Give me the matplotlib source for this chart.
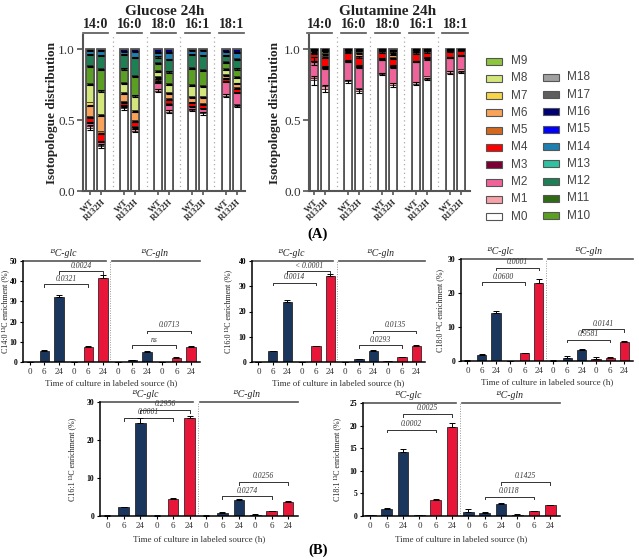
import numpy as np
import matplotlib.pyplot as plt
import matplotlib.patches as mpatches

plt.rcParams['font.family'] = ['Liberation Serif', 'DejaVu Serif']

W, H = 639, 559

# ---------- (A) isotopologue distributions ----------
lipids = ['14:0', '16:0', '18:0', '16:1', '18:1']
genotypes = ['WT', 'R132H']
iso_names = ['M%d' % i for i in range(19)]
iso_colors = ['#ffffff', '#f7a1a9', '#f0639a', '#7a0033', '#ff0000', '#d2691e',
              '#f9a35a', '#f7d54a', '#d3e67b', '#8cc63f', '#5a9e22', '#2e6b14',
              '#1e7f55', '#2fc1a0', '#1f7fae', '#0000ff', '#000075', '#5e5e5e',
              '#a0a0a0']

# fractions M0..M16, one row per bar (WT, R132H for each lipid)
glc_frac = [
    [0.445, 0.015, 0.02, 0.005, 0.035, 0.01, 0.07, 0.03, 0.12, 0.01, 0.12, 0.01, 0.07, 0.005, 0.025, 0.003, 0.007],
    [0.315, 0.012, 0.02, 0.008, 0.05, 0.015, 0.11, 0.015, 0.16, 0.01, 0.14, 0.01, 0.09, 0.005, 0.03, 0.0, 0.01],
    [0.583, 0.007, 0.012, 0.005, 0.018, 0.01, 0.05, 0.01, 0.065, 0.01, 0.09, 0.01, 0.09, 0.005, 0.02, 0.005, 0.01],
    [0.425, 0.01, 0.015, 0.005, 0.035, 0.01, 0.06, 0.01, 0.1, 0.01, 0.13, 0.01, 0.12, 0.005, 0.04, 0.005, 0.01],
    [0.708, 0.01, 0.045, 0.005, 0.015, 0.005, 0.015, 0.007, 0.03, 0.01, 0.05, 0.01, 0.035, 0.005, 0.025, 0.005, 0.02],
    [0.559, 0.01, 0.04, 0.01, 0.025, 0.01, 0.035, 0.01, 0.05, 0.01, 0.08, 0.01, 0.08, 0.005, 0.04, 0.006, 0.02],
    [0.571, 0.01, 0.015, 0.005, 0.02, 0.01, 0.03, 0.01, 0.07, 0.01, 0.11, 0.01, 0.09, 0.005, 0.025, 0.004, 0.005],
    [0.547, 0.01, 0.025, 0.005, 0.025, 0.01, 0.04, 0.01, 0.065, 0.01, 0.1, 0.01, 0.1, 0.005, 0.03, 0.003, 0.005],
    [0.672, 0.015, 0.085, 0.005, 0.015, 0.008, 0.015, 0.01, 0.03, 0.01, 0.04, 0.01, 0.04, 0.005, 0.025, 0.005, 0.01],
    [0.599, 0.015, 0.08, 0.006, 0.02, 0.01, 0.025, 0.01, 0.035, 0.01, 0.05, 0.01, 0.06, 0.005, 0.04, 0.005, 0.02],
]
gln_frac = [
    [0.78, 0.015, 0.12, 0.005, 0.05, 0.005, 0.01, 0.005, 0.005, 0.0, 0.0, 0.0, 0.0, 0.0, 0.0, 0.0, 0.005],
    [0.72, 0.02, 0.13, 0.005, 0.065, 0.01, 0.015, 0.01, 0.01, 0.0, 0.005, 0.005, 0.0, 0.0, 0.0, 0.0, 0.005],
    [0.775, 0.01, 0.13, 0.005, 0.055, 0.005, 0.008, 0.005, 0.004, 0.0, 0.0, 0.0, 0.0, 0.0, 0.0, 0.0, 0.003],
    [0.705, 0.02, 0.15, 0.005, 0.065, 0.01, 0.015, 0.01, 0.008, 0.0, 0.005, 0.004, 0.0, 0.0, 0.0, 0.0, 0.003],
    [0.825, 0.01, 0.095, 0.005, 0.045, 0.005, 0.006, 0.004, 0.003, 0.0, 0.0, 0.0, 0.0, 0.0, 0.0, 0.0, 0.002],
    [0.745, 0.02, 0.11, 0.005, 0.055, 0.01, 0.015, 0.01, 0.01, 0.0, 0.008, 0.005, 0.0, 0.0, 0.0, 0.0, 0.007],
    [0.758, 0.01, 0.145, 0.005, 0.055, 0.005, 0.008, 0.005, 0.004, 0.0, 0.0, 0.0, 0.0, 0.0, 0.0, 0.0, 0.005],
    [0.79, 0.02, 0.125, 0.005, 0.04, 0.005, 0.005, 0.004, 0.003, 0.0, 0.0, 0.0, 0.0, 0.0, 0.0, 0.0, 0.003],
    [0.835, 0.01, 0.095, 0.005, 0.04, 0.005, 0.004, 0.003, 0.002, 0.0, 0.0, 0.0, 0.0, 0.0, 0.0, 0.0, 0.001],
    [0.84, 0.02, 0.095, 0.005, 0.03, 0.004, 0.003, 0.001, 0.001, 0.0, 0.0, 0.0, 0.0, 0.0, 0.0, 0.0, 0.001],
]
glc_m0_err = [0.018, 0.014, 0.01, 0.012, 0.01, 0.01, 0.01, 0.008, 0.01, 0.008]
gln_m0_err = [0.03, 0.025, 0.01, 0.015, 0.008, 0.015, 0.008, 0.01, 0.008, 0.008]
gln_m2_err = [0.03, 0.01, 0.008, 0.01, 0.005, 0.01, 0.005, 0.008, 0.005, 0.005]

# ---------- (B) 13C enrichment (order: glc WT 0/6/24, glc R132H 0/6/24, gln WT, gln R132H) ----------
times = ['0', '6', '24'] * 4
c140_mean = [0.1, 5.5, 32.0, 0.1, 7.5, 41.5, 0.1, 0.8, 5.0, 0.1, 1.8, 7.3]
c140_err = [0.05, 0.5, 1.0, 0.05, 0.5, 1.5, 0.05, 0.2, 0.5, 0.05, 0.5, 0.6]
c140_p = ['0.0321', '0.0024', 'ns', '0.0713']
c140_py = [38.5, 45.0, 8.4, 15.5]

c160_mean = [0.1, 4.2, 23.8, 0.1, 6.2, 34.0, 0.1, 1.0, 4.4, 0.2, 1.9, 6.4]
c160_err = [0.05, 0.3, 0.8, 0.05, 0.3, 0.8, 0.05, 0.2, 0.3, 0.05, 0.2, 0.4]
c160_p = ['0.0014', '< 0.0001', '0.0293', '0.0135']
c160_py = [31.3, 36.0, 6.7, 12.4]

c180_mean = [0.1, 1.8, 14.2, 0.05, 2.3, 23.0, 0.1, 1.0, 3.3, 0.7, 1.0, 5.6]
c180_err = [0.05, 0.2, 0.6, 0.05, 0.2, 1.0, 0.05, 0.4, 0.2, 0.5, 0.1, 0.3]
c180_p = ['0.0600', '0.0001', '0.9581', '0.0141']
c180_py = [23.1, 27.4, 6.3, 9.3]

c161_mean = [0.1, 2.3, 24.5, 0.1, 4.6, 25.8, 0.1, 0.9, 4.3, 0.3, 1.2, 3.7]
c161_err = [0.05, 0.2, 1.2, 0.05, 0.2, 0.5, 0.05, 0.1, 0.2, 0.1, 0.1, 0.2]
c161_p = ['0.0001', '0.2956', '0.0274', '0.0256']
c161_py = [25.8, 27.9, 5.2, 8.9]

c181_mean = [0.2, 1.6, 14.1, 0.15, 3.5, 19.6, 0.9, 0.7, 2.7, 0.3, 1.0, 2.4]
c181_err = [0.05, 0.1, 0.7, 0.05, 0.2, 1.0, 0.6, 0.1, 0.1, 0.1, 0.1, 0.1]
c181_p = ['0.0002', '0.0025', '0.0118', '0.1425']
c181_py = [19.1, 22.6, 4.3, 7.5]

pairs = [(1, 4), (2, 5), (7, 10), (8, 11)]
wt_color, mut_color = '#1b365d', '#e8173a'

fig = plt.figure(figsize=(W / 100, H / 100), dpi=100)


def axes_px(l, t, r, b):
    return fig.add_axes([l / W, 1 - b / H, (r - l) / W, (b - t) / H])


def iso_panel(ax, frac, m0_err, title, tx, xlim, m2_err=None):
    frac = np.array(frac)
    cum = np.cumsum(frac, axis=1)
    xs = np.array([g + d for g in range(len(lipids)) for d in (-0.165, 0.165)])
    for k in range(frac.shape[1]):
        ax.bar(xs, frac[:, k], bottom=cum[:, k] - frac[:, k], width=0.25,
               color=iso_colors[k], edgecolor='#222222', linewidth=0.5, zorder=2)
    ax.bar(xs, cum[:, -1], width=0.25, fill=False, edgecolor='#555555',
           linewidth=1.3, zorder=3)
    ax.errorbar(xs, cum[:, 0], yerr=m0_err, fmt='none', ecolor='k',
                capsize=2, elinewidth=0.8, capthick=0.8, zorder=4)
    if m2_err is not None:
        ax.errorbar(xs, cum[:, 2], yerr=m2_err, fmt='none', ecolor='k',
                    capsize=2, elinewidth=0.8, capthick=0.8, zorder=4)
    for k in [2, 4, 6, 8, 10, 12, 14]:
        ax.errorbar(xs, cum[:, k], yerr=0.004, fmt='none', ecolor='k',
                    capsize=2, elinewidth=0.6, capthick=0.8, zorder=4)
    for g, lip in enumerate(lipids):
        ax.plot([g - 0.38, g + 0.38], [1.112, 1.112], color='#555555', lw=1.2,
                clip_on=False)
        ax.text(g, 1.125, lip, ha='center', va='bottom', fontsize=10,
                fontweight='bold', color='#222222', clip_on=False)
        if g < len(lipids) - 1:
            ax.axvline(g + 0.5, color='#aaaaaa', ls=(0, (1, 2.5)), lw=0.9, zorder=1)
    ax.set_xlim(*xlim)
    ax.set_ylim(0, 1.1)
    ax.set_yticks([0.0, 0.5, 1.0])
    ax.set_yticklabels(['0.0', '0.5', '1.0'], fontsize=9.5, color='#333333')
    ax.set_xticks(xs)
    ax.set_xticklabels(genotypes * len(lipids), rotation=45, ha='right',
                       rotation_mode='anchor', fontsize=6.5, fontweight='bold',
                       color='#333333')
    ax.tick_params(axis='both', length=4, width=1.2, color='#555555', pad=2)
    ax.tick_params(axis='x', length=3)
    for s in ['top', 'right']:
        ax.spines[s].set_visible(False)
    for s in ['left', 'bottom']:
        ax.spines[s].set_color('#555555')
        ax.spines[s].set_linewidth(1.5)
    fig.text(tx / W, 1 - 18 / H, title, ha='center', va='bottom', fontsize=11,
             fontweight='bold', color='#222222')


ax1 = axes_px(83, 35, 245, 191)
iso_panel(ax1, glc_frac, glc_m0_err, 'Glucose 24h', 165, (-0.37, 4.40))
fig.text(52 / W, 1 - 113 / H, 'Isotopologue distribution', rotation=90,
         ha='center', va='center', fontsize=9.5, fontweight='bold', color='#222222')

ax2 = axes_px(309, 35, 470, 191)
iso_panel(ax2, gln_frac, gln_m0_err, 'Glutamine 24h', 388, (-0.31, 4.43), gln_m2_err)
fig.text(275 / W, 1 - 113 / H, 'Isotopologue distribution', rotation=90,
         ha='center', va='center', fontsize=9.5, fontweight='bold', color='#222222')

# legend
for i, k in enumerate(range(9, -1, -1)):
    y = 61 + 17.3 * i
    fig.add_artist(mpatches.Rectangle((486 / W, 1 - (y + 3.5) / H), 16 / W, 7 / H,
                                      transform=fig.transFigure, facecolor=iso_colors[k],
                                      edgecolor='#555555', lw=0.8))
    fig.text(511 / W, 1 - y / H, iso_names[k], ha='left', va='center', fontsize=8.5,
             color='#444444', family=['Liberation Sans', 'DejaVu Sans'])
for i, k in enumerate(range(18, 9, -1)):
    y = 61 + 17.3 * (i + 1) - 1
    fig.add_artist(mpatches.Rectangle((543 / W, 1 - (y + 3.5) / H), 16 / W, 7 / H,
                                      transform=fig.transFigure, facecolor=iso_colors[k],
                                      edgecolor='#555555', lw=0.8))
    fig.text(567 / W, 1 - y / H, iso_names[k], ha='left', va='center', fontsize=8.5,
             color='#444444', family=['Liberation Sans', 'DejaVu Sans'])

fig.text(318 / W, 1 - 234 / H, '(A)', ha='center', va='center', fontsize=10.5,
         fontweight='bold')
fig.text(318 / W, 1 - 550 / H, '(B)', ha='center', va='center', fontsize=10.5,
         fontweight='bold')


def enrich_panel(rect, mean, err, pvals, py, ymax, step, ylabel, ylab_x, xlab_y):
    ax = axes_px(*rect)
    x = np.arange(12)
    cols = [wt_color] * 3 + [mut_color] * 3 + [wt_color] * 3 + [mut_color] * 3
    ax.bar(x, mean, width=0.65, color=cols, edgecolor='#111111', linewidth=0.5, zorder=2)
    ax.errorbar(x, mean, yerr=[np.zeros(12), err], fmt='none', ecolor='k',
                capsize=2, elinewidth=0.7, capthick=0.7, zorder=3)
    xl = (-0.45, 11.6)
    ax.set_xlim(*xl)
    ax.set_ylim(0, ymax)
    ax.axvline(5.5, color='#999999', ls=(0, (1, 1.5)), lw=0.7, zorder=1)
    ax.plot([xl[0], 5.22], [ymax, ymax], color='#555555', lw=1.2, clip_on=False)
    ax.plot([5.62, xl[1]], [ymax, ymax], color='#555555', lw=1.2, clip_on=False)
    tick_len = ymax * 0.025
    for (a, b), p, yy in zip(pairs, pvals, py):
        ax.plot([a, a, b, b], [yy - tick_len, yy, yy, yy - tick_len], color='#333333',
                lw=0.7, clip_on=False)
        ax.text((a + b) / 2, yy + ymax * 0.015, p, ha='center', va='bottom',
                fontsize=5.5, style='italic', color='#333333')
    ax.set_yticks(np.arange(0, ymax + 0.1, step))
    ax.set_yticklabels(['%d' % v for v in np.arange(0, ymax + 0.1, step)],
                       fontsize=5.5, fontweight='bold')
    ax.set_xticks(x)
    ax.set_xticklabels(times, fontsize=6.5, color='#333333')
    ax.tick_params(axis='both', length=2.5, width=0.8, pad=1.5)
    for s in ['top', 'right']:
        ax.spines[s].set_visible(False)
    for s in ['left', 'bottom']:
        ax.spines[s].set_linewidth(1.1)
    ax.text(2.3, ymax * 1.025, '¹³C-glc', ha='center', va='bottom', fontsize=7,
            style='italic', color='#222222', clip_on=False)
    ax.text(8.5, ymax * 1.025, '¹³C-gln', ha='center', va='bottom', fontsize=7,
            style='italic', color='#222222', clip_on=False)
    l, t, r, b = rect
    fig.text(ylab_x / W, 1 - (t + b) / 2 / H, ylabel, rotation=90, ha='center',
             va='center', fontsize=5.8, color='#222222')
    fig.text((l + r) / 2 / W, 1 - xlab_y / H, 'Time of culture in labeled source (h)',
             ha='center', va='center', fontsize=6.5, color='#333333')
    return ax


enrich_panel((23, 261, 200, 362), c140_mean, c140_err, c140_p, c140_py, 50, 10,
             'C14:0 ¹³C enrichment (%)', 5, 383)
enrich_panel((252, 261, 425, 362), c160_mean, c160_err, c160_p, c160_py, 40, 10,
             'C16:0 ¹³C enrichment (%)', 228, 383)
enrich_panel((461, 259, 633, 361), c180_mean, c180_err, c180_p, c180_py, 30, 10,
             'C18:0 ¹³C enrichment (%)', 440, 382)
enrich_panel((100, 402, 298, 516), c161_mean, c161_err, c161_p, c161_py, 30, 10,
             'C16:1 ¹³C enrichment (%)', 72, 539)
enrich_panel((363, 403, 560, 516), c181_mean, c181_err, c181_p, c181_py, 25, 5,
             'C18:1 ¹³C enrichment (%)', 337, 539)

fig.savefig('out.png', dpi=100)
